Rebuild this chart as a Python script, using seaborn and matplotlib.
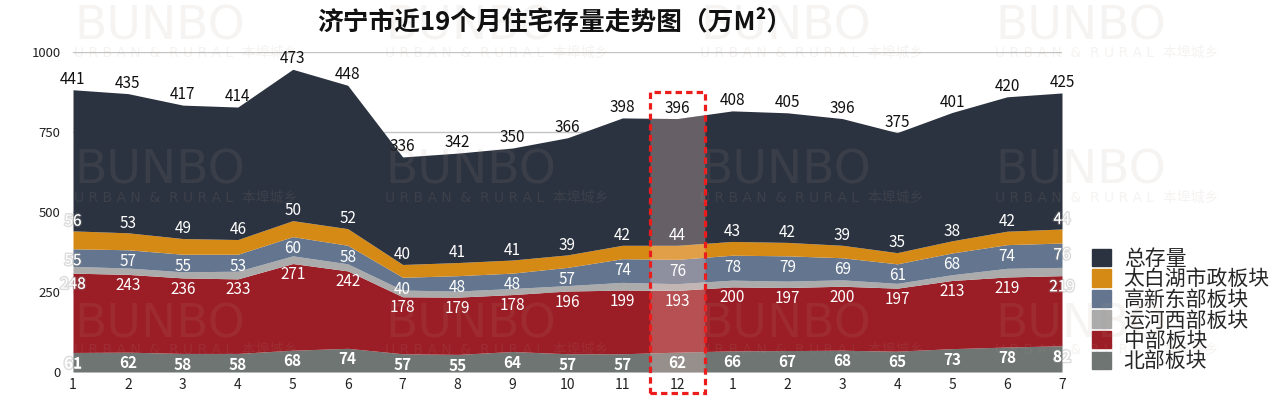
import matplotlib.pyplot as plt
import matplotlib.patches as mpatches
import matplotlib.patheffects as pe
import seaborn as sns
import numpy as np

# 19 months: 2017.1 - 2018.7
months = ['1', '2', '3', '4', '5', '6', '7', '8', '9', '10', '11', '12',
          '1', '2', '3', '4', '5', '6', '7']

north = [61, 62, 58, 58, 68, 74, 57, 55, 64, 57, 57, 62, 66, 67, 68, 65, 73, 78, 82]
central = [248, 243, 236, 233, 271, 242, 178, 179, 178, 196, 199, 193, 200, 197, 200, 197, 213, 219, 219]
canal_west = [21, 20, 19, 24, 24, 22, 21, 19, 19, 17, 24, 21, 21, 20, 20, 15, 18, 27, 26]
hightech_east = [55, 57, 55, 53, 60, 58, 40, 48, 48, 57, 74, 76, 78, 79, 69, 61, 68, 74, 76]
taibai_lake = [56, 53, 49, 46, 50, 52, 40, 41, 41, 39, 42, 44, 43, 42, 39, 35, 38, 42, 44]
total = [441, 435, 417, 414, 473, 448, 336, 342, 350, 366, 398, 396, 408, 405, 396, 375, 401, 420, 425]

names = ['北部板块', '中部板块', '运河西部板块', '高新东部板块', '太白湖市政板块', '总存量']
palette = sns.color_palette(['#6e7572', '#9b1d25', '#ababab', '#64768f', '#d68a16', '#2c3340'])

title = '济宁市近19个月住宅存量走势图（万M²）'

sns.set_theme(style="white")
plt.rcParams['font.family'] = ['Noto Sans CJK SC', 'DejaVu Sans']

W, H = 1280, 396
fig = plt.figure(figsize=(W / 100, H / 100), dpi=100)
ax = fig.add_axes([73 / W, 24 / H, (1062 - 73) / W, 320 / H])

x = np.arange(1, len(months) + 1)
layers = [north, central, canal_west, hightech_east, taibai_lake, total]
ax.stackplot(x, layers, colors=palette, labels=names, linewidth=0, zorder=2)

ax.set_xlim(1, len(months))
ax.set_ylim(0, 1000)
ax.set_yticks([0, 250, 500, 750, 1000])
ax.set_xticks(x)
ax.set_xticklabels(months)
ax.grid(axis='y', color='#c4c4c4', linewidth=1)
ax.grid(axis='x', visible=False)
ax.set_axisbelow(True)
ax.tick_params(axis='y', length=0, labelsize=9.5, pad=9, labelcolor='#222222')
ax.tick_params(axis='x', length=0, labelsize=10, pad=4, labelcolor='#222222')
sns.despine(ax=ax, left=True, bottom=True)

# value labels
glow = [pe.withStroke(linewidth=2, foreground=(0.55, 0.55, 0.55, 0.3))]
cum = np.cumsum(np.array(layers, dtype=float), axis=0)
for i in range(len(months)):
    fx = glow if i in (0, len(months) - 1) else None
    kw = dict(textcoords='offset points', ha='center', va='center', fontsize=11, zorder=8)
    ax.annotate(str(north[i]), (x[i], cum[0][i]), xytext=(0, -8), color='white',
                fontweight='bold', path_effects=fx, **kw)
    ax.annotate(str(central[i]), (x[i], cum[1][i]), xytext=(0, -8), color='white',
                path_effects=fx, **kw)
    ax.annotate(str(hightech_east[i]), (x[i], cum[3][i]), xytext=(0, -8.5), color='white',
                path_effects=fx, **kw)
    ax.annotate(str(taibai_lake[i]), (x[i], cum[4][i]), xytext=(0, 7), color='white',
                path_effects=fx, **kw)
    ax.annotate(str(total[i]), (x[i], cum[5][i]), xytext=(0, 7.5), color='#111111', **kw)

# highlight of month 12: tint only over the stacked area, dashed frame around it
hl = 12
xs = np.linspace(hl - 0.5, hl + 0.5, 50)
ax.fill_between(xs, 0, np.interp(xs, x, cum[5]), color='#ffd6cc', alpha=0.28,
                linewidth=0, zorder=5)
ax.add_patch(mpatches.Rectangle((hl - 0.5, -66), 1, 941, facecolor='none', edgecolor='#ec1c1c',
                                linewidth=2.3, linestyle=(0, (2, 1.3)), clip_on=False, zorder=9))

# watermark
for cx in [74, 385, 700, 995]:
    for by, ty in [(40, 53), (183, 198), (337, 350)]:
        fig.text(cx / W, 1 - by / H, 'BUNBO', fontsize=34, family='DejaVu Sans',
                 color='#b39f92', alpha=0.11, ha='left', va='baseline', zorder=20)
        fig.text(cx / W, 1 - ty / H, 'U R B A N  &  R U R A L  本埠城乡', fontsize=10,
                 family=['DejaVu Sans', 'Noto Sans CJK SC'], color='#b39f92', alpha=0.12,
                 ha='left', va='center', zorder=20)

fig.text(555 / W, 1 - 22 / H, title, fontsize=18.5, fontweight='bold',
         color='#111111', ha='center', va='center', zorder=30)

handles = [mpatches.Patch(color=c) for c in palette][::-1]
leg = fig.legend(handles, names[::-1], loc='center left', bbox_to_anchor=(1082 / W, 1 - 310 / H),
                 bbox_transform=fig.transFigure, frameon=False,
                 prop={'family': ['Noto Sans CJK SC', 'DejaVu Sans'], 'size': 15},
                 handlelength=0.9, handleheight=0.9, handletextpad=0.6, labelspacing=-0.07,
                 borderpad=0)

fig.savefig('out.png', dpi=100)
